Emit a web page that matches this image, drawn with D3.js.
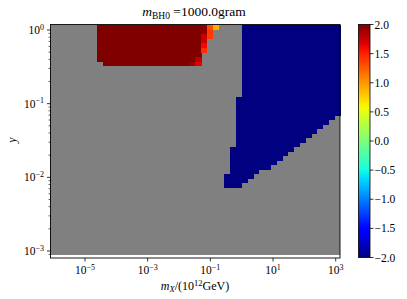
<!DOCTYPE html>
<meta charset="utf-8">
<script src="https://d3js.org/d3.v7.min.js"></script>
<style>
  body { margin: 0; background: #fff; }
  text { font-family: "Liberation Serif", serif; fill: #000; }
</style>
<body>
<svg id="chart" width="407" height="299"></svg>
<script>

// mesh: 50 columns in log10(m_X), 51 rows in log10(y)
const nCols = 50, nRows = 51;
const xMeshLog = [-6.1, 3.137];
const yMeshLog = [-3.054, 0.068];

// red (value 2.0) block: columns and lowest filled row, filled up to the top row
const redCols   = [8, 9, 10, 11, 12, 13, 14, 15, 16, 17, 18, 19, 20, 21, 22, 23, 24, 25];
const redBottom = [43, 42, 42, 42, 42, 42, 42, 42, 42, 42, 42, 42, 42, 42, 42, 42, 42, 42];

// cells on the right edge of the red block: [col, row, value]
const edgeCells = [
  [24, 42, 1.9], [25, 42, 1.65], [25, 43, 1.8],
  [26, 50, 1.95], [26, 49, 1.95], [26, 48, 1.75], [26, 47, 1.75], [26, 46, 1.6], [26, 45, 1.45],
  [27, 50, 1.3], [27, 49, 1.4], [27, 48, 1.4],
  [28, 50, 0.9]
];

// blue (value -2.0) block: columns with lowest and highest filled row
const blueCols   = [30, 31, 32, 33, 34, 35, 36, 37, 38, 39, 40, 41, 42, 43, 44, 45, 46, 47, 48, 49];
const blueBottom = [15, 15, 15, 16, 17, 18, 19, 19, 20, 21, 22, 23, 24, 25, 26, 27, 28, 29, 30, 31];
const blueTop    = [17, 23, 34, 50, 50, 50, 50, 50, 50, 50, 50, 50, 50, 50, 50, 50, 50, 50, 50, 50];

const xTicks = [-5, -3, -1, 1, 3];
const yTicks = [0, -1, -2, -3];
const cbTicks = [2.0, 1.5, 1.0, 0.5, 0.0, -0.5, -1.0, -1.5, -2.0];

// matplotlib jet
const jetR = d3.scaleLinear().domain([0, 0.35, 0.66, 0.89, 1]).range([0, 0, 1, 1, 0.5]);
const jetG = d3.scaleLinear().domain([0, 0.125, 0.375, 0.64, 0.91, 1]).range([0, 0, 1, 1, 0, 0]);
const jetB = d3.scaleLinear().domain([0, 0.11, 0.34, 0.65, 1]).range([0.5, 1, 1, 0, 0]);
function jet(t) {
  return d3.rgb(255 * jetR(t), 255 * jetG(t), 255 * jetB(t)).toString();
}
const norm = d3.scaleLinear().domain([-2, 2]).range([0, 1]).clamp(true);

const svg = d3.select("#chart");

const x = d3.scaleLog()
    .domain([Math.pow(10, -6.1), Math.pow(10, 3.137)])
    .range([50.5, 340]);
const y = d3.scaleLog()
    .domain([Math.pow(10, -3.095), Math.pow(10, 0.072)])
    .range([258, 24.7]);

const dx = (xMeshLog[1] - xMeshLog[0]) / nCols;
const dy = (yMeshLog[1] - yMeshLog[0]) / nRows;
const colEdge = c => x(Math.pow(10, xMeshLog[0] + c * dx));
const rowEdge = r => y(Math.pow(10, yMeshLog[0] + r * dy));

// build the cell list
const cells = [];
redCols.forEach((c, i) => {
  for (let r = redBottom[i]; r < nRows; r++) cells.push({c: c, r: r, v: 2.0});
});
blueCols.forEach((c, i) => {
  for (let r = blueBottom[i]; r <= blueTop[i]; r++) cells.push({c: c, r: r, v: -2.0});
});
edgeCells.forEach(d => {
  const found = cells.find(e => e.c == d[0] && e.r == d[1]);
  if (found) found.v = d[2];
  else cells.push({c: d[0], r: d[1], v: d[2]});
});

// masked background of the mesh
svg.append("rect")
    .attr("x", colEdge(0))
    .attr("y", rowEdge(nRows))
    .attr("width", colEdge(nCols) - colEdge(0))
    .attr("height", rowEdge(0) - rowEdge(nRows))
    .attr("fill", "#808080");

svg.append("g")
    .attr("shape-rendering", "crispEdges")
  .selectAll("rect")
  .data(cells)
  .join("rect")
    .attr("x", d => colEdge(d.c))
    .attr("y", d => rowEdge(d.r + 1))
    .attr("width", d => colEdge(d.c + 1) - colEdge(d.c) + 0.5)
    .attr("height", d => rowEdge(d.r) - rowEdge(d.r + 1) + 0.5)
    .attr("fill", d => jet(norm(d.v)));

// frame
svg.append("rect")
    .attr("x", 50.5).attr("y", 24.5)
    .attr("width", 289.5).attr("height", 233.5)
    .attr("fill", "none").attr("stroke", "#000").attr("stroke-width", 0.9);

// x ticks
const gx = svg.append("g");
xTicks.forEach(t => {
  const px = x(Math.pow(10, t));
  gx.append("line").attr("x1", px).attr("x2", px).attr("y1", 258).attr("y2", 261.5)
    .attr("stroke", "#000").attr("stroke-width", 0.8);
  const lab = gx.append("text").attr("x", px).attr("y", 274).attr("text-anchor", "middle")
    .style("font-size", "11.5px");
  lab.append("tspan").text("10");
  lab.append("tspan").attr("dy", -4.5).style("font-size", "8px").text(t < 0 ? "\u2212" + (-t) : t);
});

// y ticks, major and minor
const gy = svg.append("g");
yTicks.forEach(t => {
  const py = y(Math.pow(10, t));
  gy.append("line").attr("x1", 50.5).attr("x2", 47).attr("y1", py).attr("y2", py)
    .attr("stroke", "#000").attr("stroke-width", 0.8);
  const lab = gy.append("text").attr("x", 44).attr("y", py + 4).attr("text-anchor", "end")
    .style("font-size", "11.5px");
  lab.append("tspan").text("10");
  lab.append("tspan").attr("dy", -4.5).style("font-size", "8px").text(t < 0 ? "\u2212" + (-t) : t);
});
[-4, -3, -2, -1, 0].forEach(dec => {
  for (let m = 2; m <= 9; m++) {
    const v = m * Math.pow(10, dec);
    const lv = Math.log10(v);
    if (lv < -3.095 || lv > 0.072) continue;
    const py = y(v);
    gy.append("line").attr("x1", 50.5).attr("x2", 48.5).attr("y1", py).attr("y2", py)
      .attr("stroke", "#000").attr("stroke-width", 0.6);
  }
});

// titles
const title = svg.append("text").attr("x", 194).attr("y", 16).attr("text-anchor", "middle")
    .style("font-size", "13.5px");
title.append("tspan").style("font-style", "italic").text("m");
title.append("tspan").attr("dy", 2.5).style("font-size", "9.5px").text("BH0");
title.append("tspan").attr("dy", -2.5).text(" =1000.0gram");

const xl = svg.append("text").attr("x", 195).attr("y", 290).attr("text-anchor", "middle")
    .style("font-size", "12px");
xl.append("tspan").style("font-style", "italic").text("m");
xl.append("tspan").attr("dy", 2).style("font-size", "8.5px").style("font-style", "italic").text("X");
xl.append("tspan").attr("dy", -2).text("/(10");
xl.append("tspan").attr("dy", -4.5).style("font-size", "8.5px").text("12");
xl.append("tspan").attr("dy", 4.5).text("GeV)");

svg.append("text").attr("transform", "translate(16,140) rotate(-90)")
    .attr("text-anchor", "middle").style("font-size", "12px").style("font-style", "italic").text("y");

// colorbar
const cb = d3.scaleLinear().domain([-2, 2]).range([257.5, 24.5]);
const grad = svg.append("defs").append("linearGradient")
    .attr("id", "jetgrad").attr("x1", 0).attr("x2", 0).attr("y1", 1).attr("y2", 0);
d3.range(0, 1.0001, 0.02).forEach(t => {
  grad.append("stop").attr("offset", t).attr("stop-color", jet(t));
});
svg.append("rect")
    .attr("x", 358.5).attr("y", cb(2))
    .attr("width", 11.5).attr("height", cb(-2) - cb(2))
    .attr("fill", "url(#jetgrad)")
    .attr("stroke", "#000").attr("stroke-width", 0.8);
cbTicks.forEach(t => {
  const py = cb(t);
  svg.append("line").attr("x1", 370).attr("x2", 373.5).attr("y1", py).attr("y2", py)
    .attr("stroke", "#000").attr("stroke-width", 0.8);
  svg.append("text").attr("x", 374.5).attr("y", py + 4).style("font-size", "11.5px")
    .text((t < 0 ? "\u2212" : "") + Math.abs(t).toFixed(1));
});

</script>
</body>
